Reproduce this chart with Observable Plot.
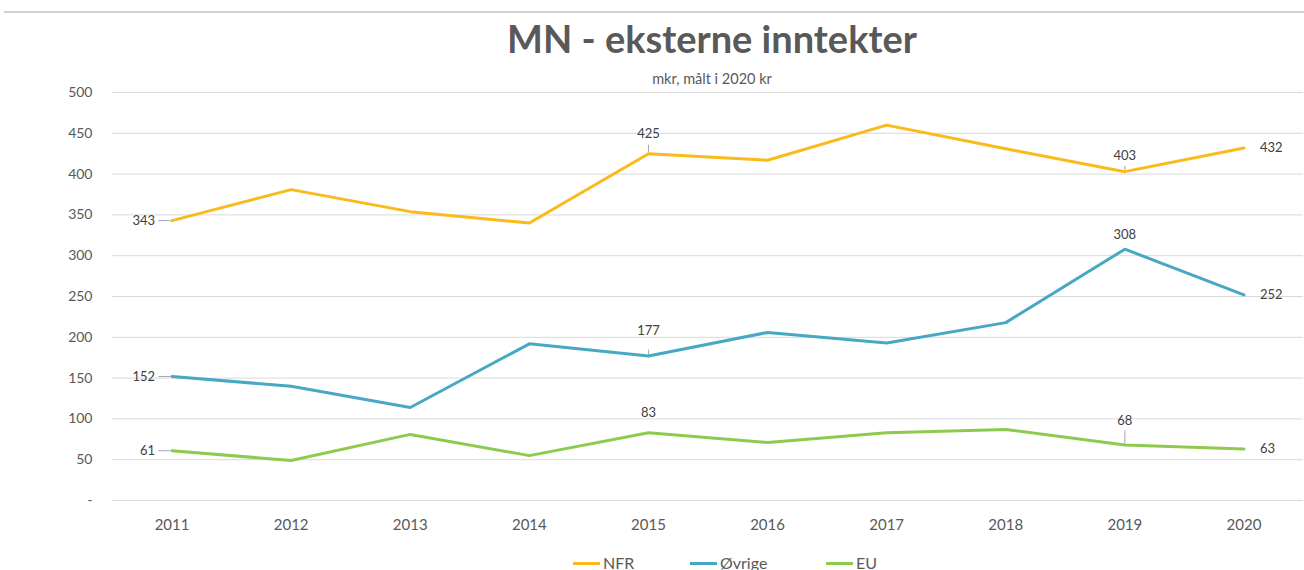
<!DOCTYPE html>
<html>
<head>
<meta charset="utf-8">
<script src="https://cdn.jsdelivr.net/npm/d3@7"></script>
<script src="https://cdn.jsdelivr.net/npm/@observablehq/plot@0.6"></script>
<style>
  html, body { margin: 0; padding: 0; background: #fff; }
  body { width: 1304px; height: 570px; overflow: hidden; font-family: Lato, "Open Sans", sans-serif; }
  #header { position: relative; height: 84px; }
  #topline { position: absolute; top: 11px; left: 4px; right: 0; height: 2px; background: #d2d2d2; }
  #title { position: absolute; left: 712px; top: 19px; transform: translateX(-50%); white-space: nowrap;
           font-size: 38px; font-weight: bold; color: #595959; line-height: 1; }
  #subtitle { position: absolute; left: 712px; top: 72px; transform: translateX(-50%); white-space: nowrap;
              font-size: 14.5px; color: #595959; line-height: 1; }
  #legend { position: relative; height: 30px; }
  .item { position: absolute; top: 15px; display: flex; align-items: center; font-size: 16px; color: #595959; line-height: 1; }
  .sw { width: 27px; height: 3px; margin-right: 3px; }
</style>
</head>
<body>
<div id="header">
  <div id="topline"></div>
  <div id="title">MN - eksterne inntekter</div>
  <div id="subtitle">mkr, målt i 2020 kr</div>
</div>
<div id="chart"></div>
<div id="legend"></div>
<script>
const years = [2011, 2012, 2013, 2014, 2015, 2016, 2017, 2018, 2019, 2020];
const nfr = [343, 381, 354, 340, 425, 417, 460, 431, 403, 432];
const ovrige = [152, 140, 114, 192, 177, 206, 193, 218, 308, 252];
const eu = [61, 49, 81, 55, 83, 71, 83, 87, 68, 63];
const seriesNames = ["NFR", "Øvrige", "EU"];
const seriesColors = ["#F9BA1A", "#47A8C4", "#8DCB4E"];
const yTicks = [0, 50, 100, 150, 200, 250, 300, 350, 400, 450, 500];
const labeledYears = [2011, 2015, 2019, 2020];

const values = [nfr, ovrige, eu];
const rows = seriesNames.flatMap((s, si) => years.map((year, i) => ({series: s, year, value: values[si][i]})));
const labeled = rows.filter(d => labeledYears.includes(d.year));
const first = labeled.filter(d => d.year === years[0]);
const last = labeled.filter(d => d.year === years[years.length - 1]);
const mid = labeled.filter(d => d.year !== years[0] && d.year !== years[years.length - 1]);

// vertical label offsets (px) for the labels placed above points
const aboveOffsets = {"NFR|2015": -20, "Øvrige|2015": -25, "EU|2015": -20, "NFR|2019": -16, "Øvrige|2019": -14, "EU|2019": -24};
const leaderLen = {"NFR|2015": 11, "Øvrige|2015": 8, "NFR|2019": 7, "EU|2019": 18};
const key = d => d.series + "|" + d.year;

const labelStyle = {fill: "#404040", fontSize: 13};
const aboveMarks = Object.entries(aboveOffsets).map(([k, dy]) =>
  Plot.text(mid.filter(d => key(d) === k), {x: "year", y: "value", text: d => String(d.value), dy, ...labelStyle})
);

const leaders = mid.filter(d => key(d) in leaderLen);

const plot = Plot.plot({
  width: 1304,
  height: 456,
  marginTop: 8,
  marginBottom: 40,
  marginLeft: 112,
  marginRight: 1,
  style: {fontFamily: "Lato, 'Open Sans', sans-serif", background: "transparent"},
  x: {type: "linear", domain: [years[0] - 0.5, years[years.length - 1] + 0.5]},
  y: {domain: [0, 500]},
  color: {domain: seriesNames, range: seriesColors},
  marks: [
    Plot.gridY(yTicks, {stroke: "#d9d9d9", strokeOpacity: 1, strokeWidth: 1}),
    Plot.axisY(yTicks, {tickSize: 0, tickPadding: 20, tickFormat: d => d === 0 ? "-" : String(d), fontSize: 14, color: "#595959", label: null}),
    Plot.axisX(years, {tickSize: 0, tickPadding: 19, tickFormat: d => String(d), fontSize: 15, color: "#595959", label: null}),
    Plot.link(first, {x1: d => d.year - 0.115, x2: d => d.year - 0.012, y1: "value", y2: "value", stroke: "#a6a6a6", strokeWidth: 1}),
    Plot.link(leaders, {x1: "year", x2: "year", y1: d => d.value + 1.5, y2: d => d.value + leaderLen[key(d)], stroke: "#a6a6a6", strokeWidth: 1}),
    Plot.lineY(rows, {x: "year", y: "value", z: "series", stroke: "series", strokeWidth: 3, strokeLinejoin: "round", strokeLinecap: "round"}),
    Plot.text(first, {x: "year", y: "value", text: d => String(d.value), textAnchor: "end", dx: -17, ...labelStyle}),
    Plot.text(last, {x: "year", y: "value", text: d => String(d.value), textAnchor: "start", dx: 16, ...labelStyle}),
    ...aboveMarks
  ]
});
document.getElementById("chart").appendChild(plot);

// legend
const legend = document.getElementById("legend");
const legendLeft = [573, 690, 826];
seriesNames.forEach((s, i) => {
  const item = document.createElement("div");
  item.className = "item";
  item.style.left = legendLeft[i] + "px";
  const sw = document.createElement("span");
  sw.className = "sw";
  sw.style.background = seriesColors[i];
  const t = document.createElement("span");
  t.textContent = s;
  item.appendChild(sw);
  item.appendChild(t);
  legend.appendChild(item);
});
</script>
</body>
</html>
